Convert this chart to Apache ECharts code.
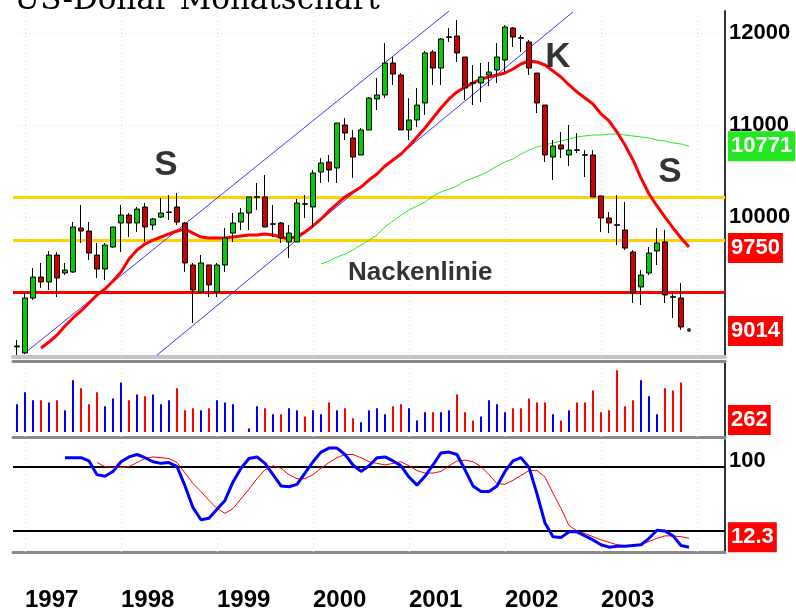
<!DOCTYPE html>
<html>
<head>
<meta charset="utf-8">
<title>US-Dollar Monatschart</title>
<script src="https://cdn.jsdelivr.net/npm/echarts@6/dist/echarts.min.js"></script>
<style>
  html, body { margin: 0; padding: 0; background: #fff; }
  #chart { width: 796px; height: 612px; }
</style>
</head>
<body>
<div id="chart"></div>
<script>
// Jahresbeschriftung unten
const years = ['1997', '1998', '1999', '2000', '2001', '2002', '2003'];

// Monatskerzen Dez 1996 – Nov 2003: [open, close, low, high]
const candles = [
  [8590, 8600, 8502, 8665], [8524, 9121, 8510, 9176], [9121, 9349, 9100, 9447], [9349, 9295, 9230, 9502],
  [9295, 9588, 9208, 9632], [9588, 9339, 9132, 9621], [9393, 9425, 9371, 9502], [9404, 9893, 9393, 9947],
  [9882, 9849, 9719, 10132], [9849, 9610, 9534, 9947], [9588, 9436, 9339, 9719], [9436, 9697, 9317, 9719],
  [9675, 9893, 9664, 9893], [9936, 10023, 9621, 10132], [10023, 9936, 9784, 10045], [9936, 10088, 9838, 10110],
  [10110, 9893, 9730, 10153], [9914, 9980, 9860, 9991], [10001, 10045, 9991, 10208], [10050, 10056, 9969, 10240],
  [10110, 9947, 9914, 10262], [9936, 9502, 9404, 9947], [9480, 9208, 8850, 9502], [9186, 9502, 9176, 9588],
  [9480, 9263, 9132, 9480], [9186, 9480, 9132, 9502], [9480, 9773, 9404, 9882], [9827, 9936, 9730, 10045],
  [9947, 10045, 9860, 10099], [10045, 10219, 9860, 10219], [10215, 10222, 10077, 10371], [10219, 9893, 9893, 10458],
  [9922, 9928, 9784, 10132], [9936, 9773, 9719, 9947], [9730, 9827, 9556, 9914], [9730, 10153, 9730, 10197],
  [10146, 10140, 9991, 10240], [10110, 10479, 9893, 10512], [10490, 10588, 10371, 10642], [10599, 10512, 10382, 10675],
  [10534, 11023, 10371, 11023], [11001, 10914, 10838, 11077], [10860, 10653, 10425, 10947], [10675, 10947, 10675, 10969],
  [10947, 11294, 10947, 11305], [11284, 11327, 11164, 11512], [11327, 11675, 11294, 11892], [11675, 11555, 11436, 11740],
  [11544, 10947, 10947, 11566], [10947, 11056, 10838, 11294], [11056, 11218, 10979, 11403], [11240, 11784, 11110, 11805],
  [11794, 11620, 11436, 11816], [11620, 11936, 11436, 11947], [11954, 11960, 11903, 12055], [11968, 11784, 11686, 12142],
  [11740, 11403, 11273, 11740], [11462, 11455, 11218, 11653], [11458, 11523, 11251, 11675], [11544, 11577, 11425, 11686],
  [11599, 11740, 11458, 11892], [11707, 12066, 11577, 12088], [12055, 11957, 11849, 12066], [11950, 11944, 11794, 11979],
  [11903, 11620, 11544, 11925], [11566, 11240, 11131, 11566], [11218, 10675, 10599, 11218], [10653, 10773, 10403, 10838],
  [10784, 10740, 10642, 10925], [10675, 10729, 10555, 11001], [10732, 10726, 10697, 10914], [10678, 10672, 10436, 10729],
  [10675, 10219, 10219, 10729], [10230, 9991, 9838, 10230], [9991, 9936, 9827, 10056], [9917, 9911, 9697, 10240],
  [9860, 9664, 9643, 10164], [9621, 9176, 9067, 9643], [9241, 9371, 9045, 9425], [9393, 9610, 9371, 9675],
  [9632, 9719, 9480, 9882], [9730, 9154, 9067, 9860], [9135, 9129, 8904, 9186], [9121, 8806, 8774, 9284]
];
const lastTick = 8774;

// Umsatz je Monat
const volume = [
  145, 208, 166, 166, 155, 166, 114, 271, 229, 145,
  208, 135, 176, 260, 166, 197, 187, 197, 145, 166,
  229, 114, 124, 114, 124, 166, 155, 145, 0, 19,
  135, 124, 93, 93, 124, 114, 82, 114, 93, 155,
  114, 124, 72, 51, 114, 124, 93, 135, 145, 124,
  61, 103, 103, 103, 114, 197, 103, 61, 82, 166,
  145, 103, 124, 124, 176, 155, 155, 93, 61, 114,
  155, 155, 218, 103, 114, 323, 135, 166, 271, 187,
  93, 229, 218, 260
];

// gleitende Durchschnitte (rot = kurz, grün = lang)
const maShort = [
  null, null, null, 8578, 8643, 8719, 8817, 8904, 8980, 9067,
  9154, 9219, 9306, 9404, 9545, 9643, 9708, 9751, 9784, 9817,
  9849, 9871, 9827, 9784, 9773, 9773, 9773, 9784, 9795, 9806,
  9806, 9817, 9806, 9784, 9762, 9795, 9838, 9904, 9980, 10067,
  10143, 10219, 10273, 10327, 10403, 10469, 10555, 10621, 10686, 10773,
  10871, 10969, 11077, 11186, 11284, 11360, 11414, 11458, 11501, 11523,
  11544, 11566, 11610, 11664, 11697, 11686, 11653, 11588, 11523, 11436,
  11360, 11295, 11229, 11121, 11045, 10925, 10784, 10621, 10425, 10251,
  10121, 10001, 9882, 9773, 9675
];
const maLong = [
  null, null, null, null, null, null, null, null, null, null,
  null, null, null, null, null, null, null, null, null, null,
  null, null, null, null, null, null, null, null, null, null,
  null, null, null, null, null, null, null, null, 9491, 9523,
  9567, 9599, 9643, 9697, 9751, 9806, 9893, 9958, 10023, 10077,
  10121, 10164, 10230, 10273, 10306, 10338, 10393, 10425, 10458, 10501,
  10555, 10599, 10632, 10686, 10729, 10762, 10784, 10806, 10827, 10849,
  10871, 10882, 10892, 10892, 10903, 10903, 10892, 10882, 10871, 10860,
  10838, 10827, 10806, 10795, 10771
];

// Oszillator (blau = schnell, rot = Signal)
const oscFast = [
  null, null, null, null, null, null, 111, 111, 111, 107,
  90, 88, 94, 106, 112, 115, 111, 106, 104, 105,
  100, 76, 49, 34, 36, 47, 58, 81, 98, 110,
  112, 104, 90, 76, 75, 78, 92, 106, 118, 123,
  123, 115, 102, 94, 101, 111, 112, 107, 101, 87,
  77, 88, 102, 117, 118, 115, 96, 76, 69, 69,
  76, 94, 107, 111, 99, 66, 30, 13, 12, 19,
  19, 14, 9, 3, 0, 1, 1, 2, 3, 11,
  21, 20, 14, 2, 0
];
const oscSlow = [
  null, null, null, null, null, null, null, null, null, null,
  105, 100, 99, 99, 100, 105, 110, 112, 111, 110,
  105, 92, 79, 69, 58, 48, 42, 48, 60, 72,
  85, 96, 101, 98, 90, 85, 85, 90, 98, 105,
  111, 115, 115, 111, 106, 104, 102, 104, 106, 101,
  95, 92, 92, 94, 101, 107, 108, 106, 100, 90,
  79, 78, 83, 89, 95, 95, 87, 67, 48, 27,
  20, 17, 13, 9, 6, 3, 2, 2, 3, 7,
  11, 14, 14, 13, 11
];

// Trendkanal (Monatsindex, Kurs)
const channelUpper = [[1, 8524], [54, 12240]];
const channelLower = [[17.5, 8500], [69.5, 12230]];

// horizontale Marken
const resistance = 10220;
const support = 9750;
const neckline = 9186;

// Beschriftungen im Chart
const notes = [
  { text: 'S', at: [18.6, 10566], size: 35 },
  { text: 'K', at: [67.6, 11740], size: 35 },
  { text: 'S', at: [81.6, 10490], size: 35 },
  { text: 'Nackenlinie', at: [50.4, 9393], size: 26 }
];

// Monatskategorien: Dez 1996 plus leerer Rand rechts
const months = [];
for (let k = 0; k < 89; k++) {
  const d = new Date(1996, 11 + k, 1);
  months.push(d.getFullYear() + '-' + String(d.getMonth() + 1).padStart(2, '0'));
}
const janMonths = months.filter(m => m.endsWith('-01'));

const FONT = 'Liberation Sans';
const dotted = { color: '#e4e4b0', type: [1, 3], width: 1 };
const vGrid = janMonths.map(m => ({ xAxis: m, lineStyle: dotted }));

function box(text, bg) {
  return {
    show: true, position: 'end', distance: 3, formatter: text,
    color: '#fff', backgroundColor: bg, padding: [5, 3, 3, 3],
    fontSize: 22, fontWeight: 'bold', fontFamily: FONT
  };
}
// unsichtbare Linie, die nur das Wertkästchen rechts trägt
function tag(axisVal, label) {
  return { yAxis: axisVal, lineStyle: { color: 'rgba(0,0,0,0)', width: 0 }, label: label };
}

let myChart = echarts.init(document.getElementById('chart'), null, { renderer: 'canvas' });

const catAxis = (grid, extra) => Object.assign({
  type: 'category', gridIndex: grid, data: months, boundaryGap: true,
  axisTick: { show: false }, axisLabel: { show: false }, splitLine: { show: false }
}, extra || {});
const sep = (color, width) => ({ show: true, onZero: false, lineStyle: { color: color, width: width } });
const rightLine = { show: true, onZero: false, lineStyle: { color: '#333', width: 2 } };

let option = {
  animation: false,
  backgroundColor: '#fff',
  title: {
    text: 'US-Dollar Monatschart', left: 14, top: -15, padding: 0,
    textStyle: { fontFamily: 'DejaVu Serif', fontSize: 31, fontWeight: 'normal', color: '#000' }
  },
  grid: [
    { left: 13, top: 11, width: 712, height: 346 },
    { left: 13, top: 361, width: 712, height: 76 },
    { left: 13, top: 440, width: 712, height: 115 }
  ],
  xAxis: [
    catAxis(0, { axisLine: sep('#c4c4c4', 4) }),
    { type: 'value', gridIndex: 0, min: -0.5, max: 88.5, show: false },
    catAxis(1, { axisLine: sep('#8a8a8a', 3) }),
    catAxis(2, {
      axisLine: sep('#8a8a8a', 3),
      axisLabel: {
        show: true, margin: 36, align: 'left',
        interval: (idx, val) => val.endsWith('-01') && years.includes(val.slice(0, 4)),
        formatter: v => v.slice(0, 4),
        fontFamily: FONT, fontSize: 24, fontWeight: 'bold', color: '#000'
      }
    }),
    catAxis(1, { position: 'top', axisLine: sep('#8a8a8a', 3) })
  ],
  yAxis: [
    {
      type: 'value', gridIndex: 0, position: 'right', min: 8480, max: 12240,
      axisLine: rightLine, axisTick: { show: false }, splitLine: { show: false },
      axisLabel: {
        customValues: [10000, 11000, 12000], margin: 4, formatter: v => String(v),
        fontFamily: FONT, fontSize: 22, fontWeight: 'bold', color: '#000'
      }
    },
    {
      type: 'value', gridIndex: 1, position: 'right', min: -26, max: 372,
      axisLine: rightLine, axisTick: { show: false }, splitLine: { show: false }, axisLabel: { show: false }
    },
    {
      type: 'value', gridIndex: 2, position: 'right', min: -6, max: 133,
      axisLine: rightLine, axisTick: { show: false }, splitLine: { show: false }, axisLabel: { show: false }
    }
  ],
  series: [
    {
      name: 'GD lang', type: 'line', xAxisIndex: 0, yAxisIndex: 0, z: 2,
      data: maLong, symbol: 'none', lineStyle: { color: '#22ee22', width: 1 },
      markLine: {
        silent: true, symbol: ['none', 'none'], animation: false, z: 1,
        label: { show: false },
        data: vGrid.concat(
          [10000, 11000, 12000].map(v => ({ yAxis: v, lineStyle: dotted })),
          [
            { yAxis: resistance, lineStyle: { color: '#ffd200', width: 3, type: 'solid' } },
            { yAxis: support, lineStyle: { color: '#ffd200', width: 3, type: 'solid' } },
            { yAxis: neckline, lineStyle: { color: '#ff0000', width: 3, type: 'solid' } },
            tag(10771, box('10771', '#22e822')),
            tag(9664, box('9750', '#ff0000')),
            tag(8762, box('9014', '#ff0000'))
          ]
        )
      }
    },
    {
      name: 'Kanal oben', type: 'line', xAxisIndex: 1, yAxisIndex: 0, z: 2,
      data: channelUpper, symbol: 'none', lineStyle: { color: '#3a3aff', width: 1 }
    },
    {
      name: 'Kanal unten', type: 'line', xAxisIndex: 1, yAxisIndex: 0, z: 2,
      data: channelLower, symbol: 'none', lineStyle: { color: '#3a3aff', width: 1 }
    },
    {
      name: 'GD kurz', type: 'line', xAxisIndex: 0, yAxisIndex: 0, z: 3,
      data: maShort, symbol: 'none', lineStyle: { color: '#ff0000', width: 3 }
    },
    {
      name: 'Kurs', type: 'candlestick', xAxisIndex: 0, yAxisIndex: 0, z: 4,
      data: candles, barWidth: 5,
      itemStyle: {
        color: '#00cc00', color0: '#cc0000',
        borderColor: '#000', borderColor0: '#000', borderColorDoji: '#000', borderWidth: 1
      }
    },
    {
      name: 'Letzter', type: 'scatter', xAxisIndex: 0, yAxisIndex: 0, z: 4,
      data: [[months[candles.length], lastTick]], symbolSize: 4, itemStyle: { color: '#000' }
    },
    {
      name: 'Notizen', type: 'scatter', xAxisIndex: 1, yAxisIndex: 0, z: 5,
      symbolSize: 0,
      data: notes.map(n => ({
        value: n.at, name: n.text,
        label: {
          show: true, position: 'inside', formatter: n.text,
          fontFamily: FONT, fontWeight: 'bold', fontSize: n.size, color: '#000'
        }
      }))
    },
    {
      name: 'Umsatz', type: 'bar', xAxisIndex: 2, yAxisIndex: 1, z: 3,
      data: volume, barWidth: 2,
      itemStyle: {
        color: p => (candles[p.dataIndex][1] >= candles[p.dataIndex][0] ? '#0000ff' : '#ff0000')
      },
      markLine: {
        silent: true, symbol: ['none', 'none'], animation: false, z: 1,
        label: { show: false },
        data: vGrid.concat([tag(63, box('262', '#ff0000'))])
      }
    },
    {
      name: 'Signal', type: 'line', xAxisIndex: 3, yAxisIndex: 2, z: 3,
      data: oscSlow, symbol: 'none', lineStyle: { color: '#ff0000', width: 1 },
      markLine: {
        silent: true, symbol: ['none', 'none'], animation: false, z: 1,
        label: { show: false },
        data: vGrid.concat([
          { yAxis: 100, lineStyle: { color: '#000', width: 2, type: 'solid' } },
          { yAxis: 20, lineStyle: { color: '#000', width: 2, type: 'solid' } },
          tag(107, {
            show: true, position: 'end', distance: 4, formatter: '100',
            color: '#000', fontSize: 22, fontWeight: 'bold', fontFamily: FONT
          }),
          tag(12.3, box('12.3', '#ff0000'))
        ])
      }
    },
    {
      name: 'Oszillator', type: 'line', xAxisIndex: 3, yAxisIndex: 2, z: 4,
      data: oscFast, symbol: 'none', lineStyle: { color: '#0000ff', width: 3 }
    }
  ]
};

myChart.setOption(option);
</script>
</body>
</html>
